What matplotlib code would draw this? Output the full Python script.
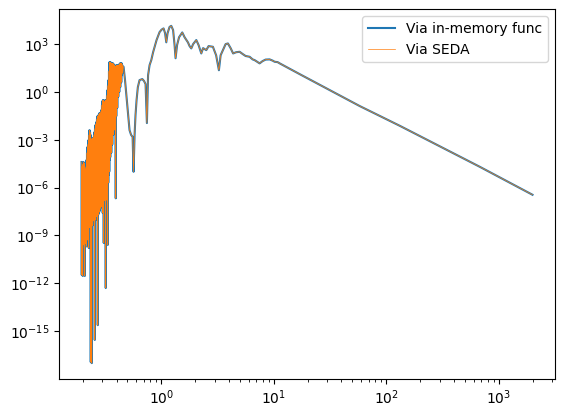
import matplotlib
matplotlib.use("Agg")
import matplotlib.pyplot as plt
from matplotlib.ticker import NullLocator

# wavelength (micron) and flux
# dense, noisy part of the spectrum (UV lines)
wl_noisy = [
    0.1954, 0.1964, 0.1974, 0.1984, 0.1994, 0.2004, 0.2015, 0.2025,
    0.2035, 0.2045, 0.2056, 0.2067, 0.2077, 0.2088, 0.2098, 0.2109,
    0.2120, 0.2131, 0.2142, 0.2153, 0.2164, 0.2175, 0.2186, 0.2198,
    0.2209, 0.2220, 0.2232, 0.2243, 0.2255, 0.2267, 0.2278, 0.2290,
    0.2301, 0.2313, 0.2325, 0.2337, 0.2349, 0.2361, 0.2373, 0.2385,
    0.2397, 0.2409, 0.2422, 0.2434, 0.2447, 0.2460, 0.2472, 0.2485,
    0.2497, 0.2510, 0.2523, 0.2536, 0.2549, 0.2562, 0.2575, 0.2589,
    0.2602, 0.2615, 0.2629, 0.2642, 0.2655, 0.2669, 0.2682, 0.2696,
    0.2710, 0.2724, 0.2738, 0.2752, 0.2766, 0.2780, 0.2795, 0.2809,
    0.2824, 0.2838, 0.2853, 0.2868, 0.2882, 0.2897, 0.2912, 0.2927,
    0.2941, 0.2956, 0.2971, 0.2987, 0.3002, 0.3017, 0.3033, 0.3048,
    0.3064, 0.3080, 0.3096, 0.3111, 0.3128, 0.3144, 0.3160, 0.3176,
    0.3192, 0.3208, 0.3225, 0.3241, 0.3258, 0.3275, 0.3292, 0.3309,
    0.3326, 0.3343, 0.3360, 0.3378, 0.3394, 0.3411, 0.3429, 0.3447,
    0.3464, 0.3482, 0.3500, 0.3518, 0.3536, 0.3554, 0.3572, 0.3591,
    0.3609, 0.3628, 0.3646, 0.3665, 0.3684, 0.3703, 0.3722, 0.3741,
    0.3760, 0.3779, 0.3799, 0.3818, 0.3838, 0.3858, 0.3878, 0.3898,
    0.3917, 0.3937, 0.3957, 0.3978, 0.3998, 0.4019, 0.4039, 0.4060,
    0.4081, 0.4102, 0.4123, 0.4144, 0.4165, 0.4186, 0.4208, 0.4230,
    0.4251, 0.4273, 0.4295, 0.4317, 0.4339, 0.4361, 0.4384, 0.4406,
    0.4429, 0.4452, 0.4475, 0.4498, 0.4520,
]
flux_noisy = [
    4.0e-5, 3.2e-12, 2.0e-5, 2.5e-10, 2.6e-5, 2.8e-12, 3.0e-5, 4.0e-10,
    4.0e-5, 2.5e-10, 3.0e-5, 1.6e-10, 3.4e-5, 2.8e-12, 1.5e-5, 3.0e-10,
    6.0e-6, 5.1e-10, 2.0e-5, 2.0e-10, 5.3e-5, 1.0e-9, 1.5e-4, 5.0e-10,
    3.5e-4, 2.1e-9, 5.0e-4, 1.0e-9, 9.5e-4, 1.6e-10, 2.0e-3, 3.0e-9,
    4.0e-3, 9.1e-9, 3.0e-3, 4.4e-9, 2.0e-3, 1.1e-17, 1.2e-3, 5.0e-9,
    9.5e-4, 9.5e-18, 1.0e-3, 4.0e-9, 1.3e-3, 4.4e-9, 1.0e-3, 8.0e-9,
    1.3e-3, 1.9e-8, 2.0e-3, 1.5e-8, 3.0e-3, 2.7e-16, 5.0e-3, 2.0e-8,
    8.3e-3, 9.1e-9, 1.0e-2, 1.5e-8, 1.3e-2, 1.9e-8, 2.0e-2, 2.5e-8,
    3.0e-2, 2.3e-15, 3.0e-2, 2.0e-8, 0.035, 2.5e-8, 0.04, 3.0e-8,
    0.047, 3.9e-8, 0.04, 5.0e-8, 0.047, 7.9e-8, 0.06, 6.0e-8,
    0.074, 1.6e-7, 0.15, 8.0e-8, 0.27, 2.5e-8, 0.3, 1.2e-7,
    0.31, 3.3e-10, 0.25, 1.6e-7, 0.20, 1.6e-7, 0.25, 2.0e-7,
    0.31, 4.9e-13, 0.3, 1.6e-7, 0.31, 6.9e-7, 0.6, 5.0e-7,
    1.3, 2.5e-10, 2.5, 2.0e-6, 5.5, 6.0e-6, 20.0, 1.0e-5,
    74.0, 5.3e-5, 70.0, 8.0e-5, 74.0, 2.2e-4, 65.0, 1.5e-4,
    56.0, 9.5e-4, 60.0, 5.0e-4, 64.0, 2.0e-3, 60.0, 2.0e-3,
    56.0, 8.3e-3, 50.0, 5.0e-3, 48.0, 4.0e-3, 40.0, 1.0e-2,
    31.0, 2.1e-7, 40.0, 3.0e-2, 48.0, 0.31, 48.0, 0.1,
    48.0, 0.63, 45.0, 0.5, 42.0, 1.7, 50.0, 1.0,
    56.0, 2.7, 60.0, 2.0, 64.0, 5.5, 64.0, 4.0,
    64.0, 11.0, 55.0, 15.0, 42.0,
]
# smoother optical / IR part and the long-wavelength tail
wl_smooth = [
    0.462, 0.476, 0.491, 0.507, 0.522, 0.539, 0.556, 0.567, 0.579, 0.590,
    0.603, 0.619, 0.641, 0.678, 0.703, 0.725, 0.745, 0.763, 0.787, 0.815,
    0.846, 0.872, 0.908, 0.966, 1.006, 1.048, 1.081, 1.108, 1.138, 1.185,
    1.227, 1.274, 1.313, 1.340, 1.382, 1.439, 1.537, 1.612, 1.725, 1.786,
    1.849, 1.919, 2.048, 2.147, 2.269, 2.354, 2.513, 2.635, 2.878, 3.074,
    3.254, 3.371, 3.532, 3.733, 3.913, 4.136, 4.353, 4.630, 4.973, 5.29,
    5.62, 6.105, 6.49, 6.76, 7.19, 7.49, 7.96, 8.47, 9.19, 9.78,
    10.19, 10.83, 11.29, 17.0, 31.5, 58.2, 131.9, 270.0, 679.0, 2000.0,
]
flux_smooth = [
    38.0, 5.5, 0.47, 0.035, 4.0e-3, 2.0e-3, 1.5e-3, 9.7e-6, 2.0e-3, 0.035,
    0.31, 2.0, 5.5, 6.4, 4.8, 3.1, 0.0111, 11.0, 48.0, 99.0,
    310.0, 650.0, 1800.0, 5700.0, 8100.0, 9700.0, 4900.0, 1300.0, 4900.0, 12000.0,
    14000.0, 7600.0, 870.0, 130.0, 870.0, 2700.0, 5400.0, 2700.0, 1300.0, 750.0,
    540.0, 1000.0, 1800.0, 870.0, 260.0, 560.0, 420.0, 750.0, 680.0, 200.0,
    23.0, 200.0, 420.0, 1000.0, 1100.0, 560.0, 260.0, 310.0, 330.0, 240.0,
    180.0, 160.0, 110.0, 99.0, 74.0, 62.0, 86.0, 107.0, 110.0, 92.0,
    78.0, 74.0, 62.0, 13.1, 1.30, 0.129, 7.5e-3, 5.6e-4, 2.0e-5, 3.5e-7,
]

wavelength = wl_noisy + wl_smooth
flux_func = flux_noisy + flux_smooth
# the SEDA run gives the same spectrum
flux_seda = list(flux_func)

y_ticks = [1e-15, 1e-12, 1e-9, 1e-6, 1e-3, 1e0, 1e3]

fig = plt.figure(figsize=(5.65, 4.17), dpi=100)
ax = fig.add_axes([0.1044, 0.0911, 0.878, 0.887])

ax.plot(wavelength, flux_func, color="C0", linewidth=1.5, label="Via in-memory func")
ax.plot(wavelength, flux_seda, color="C1", linewidth=0.5, label="Via SEDA")
ax.set_xscale("log")
ax.set_yscale("log")
ax.set_ylim(10 ** -18.02, 10 ** 5.196)
ax.set_yticks(y_ticks)
ax.yaxis.set_minor_locator(NullLocator())
ax.legend(loc="upper right")

fig.savefig("out.png", dpi=100)
